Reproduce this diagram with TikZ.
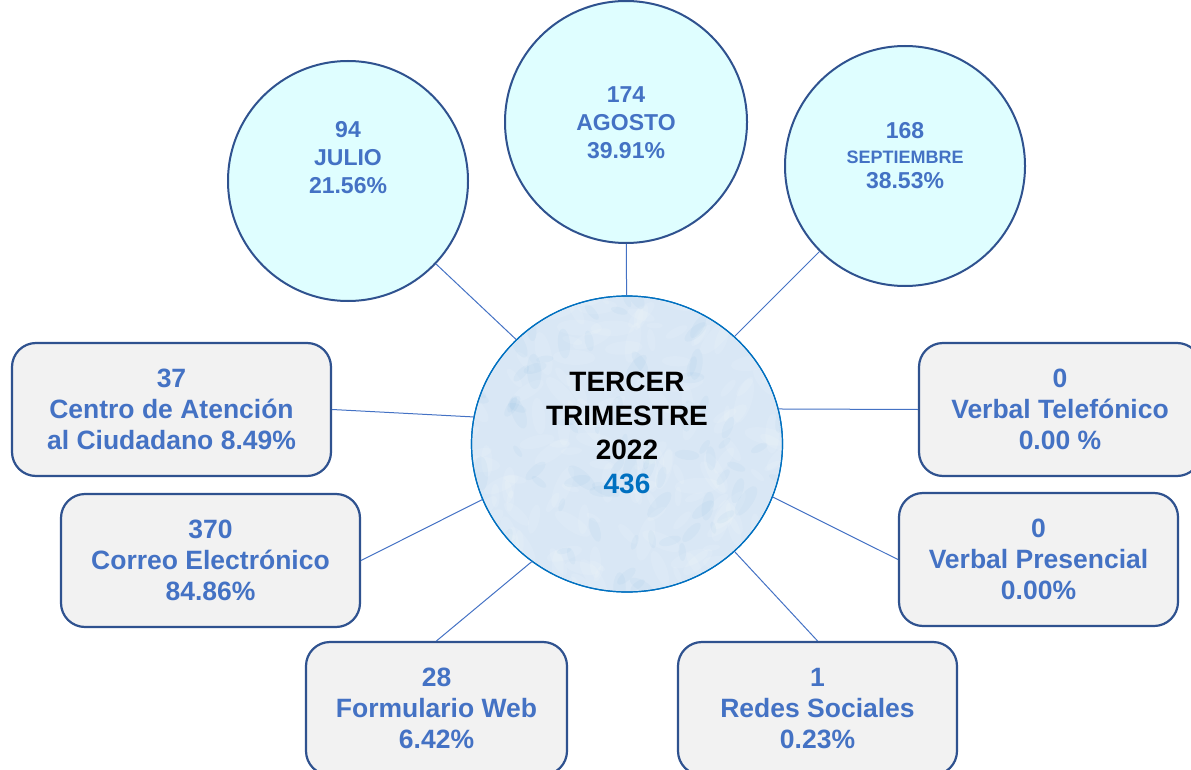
\documentclass[tikz,border=0pt]{standalone}
\usepackage{fontspec}
\setmainfont{Liberation Sans}
\usetikzlibrary{shapes.geometric}
\definecolor{txtblue}{HTML}{4472C4}
\definecolor{edgeblue}{HTML}{2F528F}
\definecolor{boxgray}{HTML}{F2F2F2}
\definecolor{monthfill}{HTML}{DFFEFF}
\definecolor{hubfill}{HTML}{D9E7F5}
\definecolor{hubedge}{HTML}{0070C0}
\begin{document}
\begin{tikzpicture}[x=1pt,y=-1pt,
  channel/.style={draw=edgeblue, line width=2.2pt, fill=boxgray, rounded corners=24pt,
    inner sep=0pt, align=center, text=txtblue, font=\fontsize{26.5}{31}\selectfont\bfseries},
  month/.style={circle, draw=edgeblue, line width=2pt, fill=monthfill, inner sep=0pt},
  monthtext/.style={align=center, text=txtblue, font=\fontsize{23}{28}\selectfont\bfseries, inner sep=0pt},
  link/.style={draw=txtblue, line width=1pt}]
\useasboundingbox (0,0) rectangle (1191,770);

% months
\node[month, minimum size=240pt] (jul) at (348,181) {};
\node[month, minimum size=242pt] (ago) at (626,122) {};
\node[month, minimum size=240pt] (sep) at (905,166) {};
\node[monthtext] (jultext) at (348,158) {94\\JULIO\\21.56\%};
\node[monthtext] (agotext) at (626,123) {174\\AGOSTO\\39.91\%};
\node[monthtext, font=\fontsize{23}{25}\selectfont\bfseries] (septext) at (905,156)
  {168\\{\fontsize{18}{22}\selectfont SEPTIEMBRE}\\38.53\%};

% central hub with a soft paper-like texture
\node[ellipse, draw=hubedge, line width=1.2pt, fill=hubfill, minimum width=311pt,
  minimum height=296pt, inner sep=0pt] (hub) at (627,444) {};
\begin{scope}
  \clip (627,444) ellipse [x radius=155pt, y radius=147.5pt];
  \pgfmathsetseed{11}
  \foreach \i in {1,...,180} {
    \pgfmathsetmacro\px{627+160*rand}
    \pgfmathsetmacro\py{444+152*rand}
    \pgfmathsetmacro\rr{8+16*rnd}
    \pgfmathsetmacro\ang{180*rnd}
    \fill[white, opacity=0.10, rotate around={\ang:(\px,\py)}]
      (\px,\py) ellipse [x radius=\rr pt, y radius=0.35*\rr pt];
  }
  \foreach \i in {1,...,90} {
    \pgfmathsetmacro\px{627+160*rand}
    \pgfmathsetmacro\py{444+152*rand}
    \pgfmathsetmacro\rr{6+12*rnd}
    \pgfmathsetmacro\ang{180*rnd}
    \fill[hubedge, opacity=0.03, rotate around={\ang:(\px,\py)}]
      (\px,\py) ellipse [x radius=\rr pt, y radius=0.4*\rr pt];
  }
\end{scope}
\draw[hubedge, line width=1.2pt] (627,444) ellipse [x radius=155.5pt, y radius=148pt];
\node[align=center, font=\fontsize{28}{34}\selectfont\bfseries, inner sep=0pt] (hubtext)
  at (627,433) {TERCER\\TRIMESTRE\\2022\\\textcolor{hubedge}{436}};

% channels
\node[channel, minimum width=319pt, minimum height=133pt] (cac) at (171.5,409.5)
  {37\\Centro de Atención\\al Ciudadano 8.49\%};
\node[channel, minimum width=299pt, minimum height=133pt] (cor) at (210.5,560.5)
  {370\\Correo Electrónico\\84.86\%};
\node[channel, minimum width=261pt, minimum height=133pt] (fw) at (436.5,708.5)
  {28\\Formulario Web\\6.42\%};
\node[channel, minimum width=279pt, minimum height=133pt] (rs) at (817.5,708.5)
  {1\\Redes Sociales\\0.23\%};
\node[channel, minimum width=282pt, minimum height=133pt] (vt) at (1060,409.5)
  {0\\Verbal Telefónico\\0.00 \%};
\node[channel, minimum width=279pt, minimum height=133pt] (vp) at (1038.5,559.5)
  {0\\Verbal Presencial\\0.00\%};

% connectors
\draw[link] (jul) -- (hub);
\draw[link] (ago) -- (hub);
\draw[link] (sep) -- (hub);
\draw[link] (cac.east) -- (hub.170);
\draw[link] (vt.west) -- (hub.13);
\draw[link] (cor.east) -- (hub.201);
\draw[link] (vp.west) -- (hub.340);
\draw[link] (fw.north) -- (hub.231);
\draw[link] (rs.north) -- (hub.315);
\end{tikzpicture}
\end{document}
